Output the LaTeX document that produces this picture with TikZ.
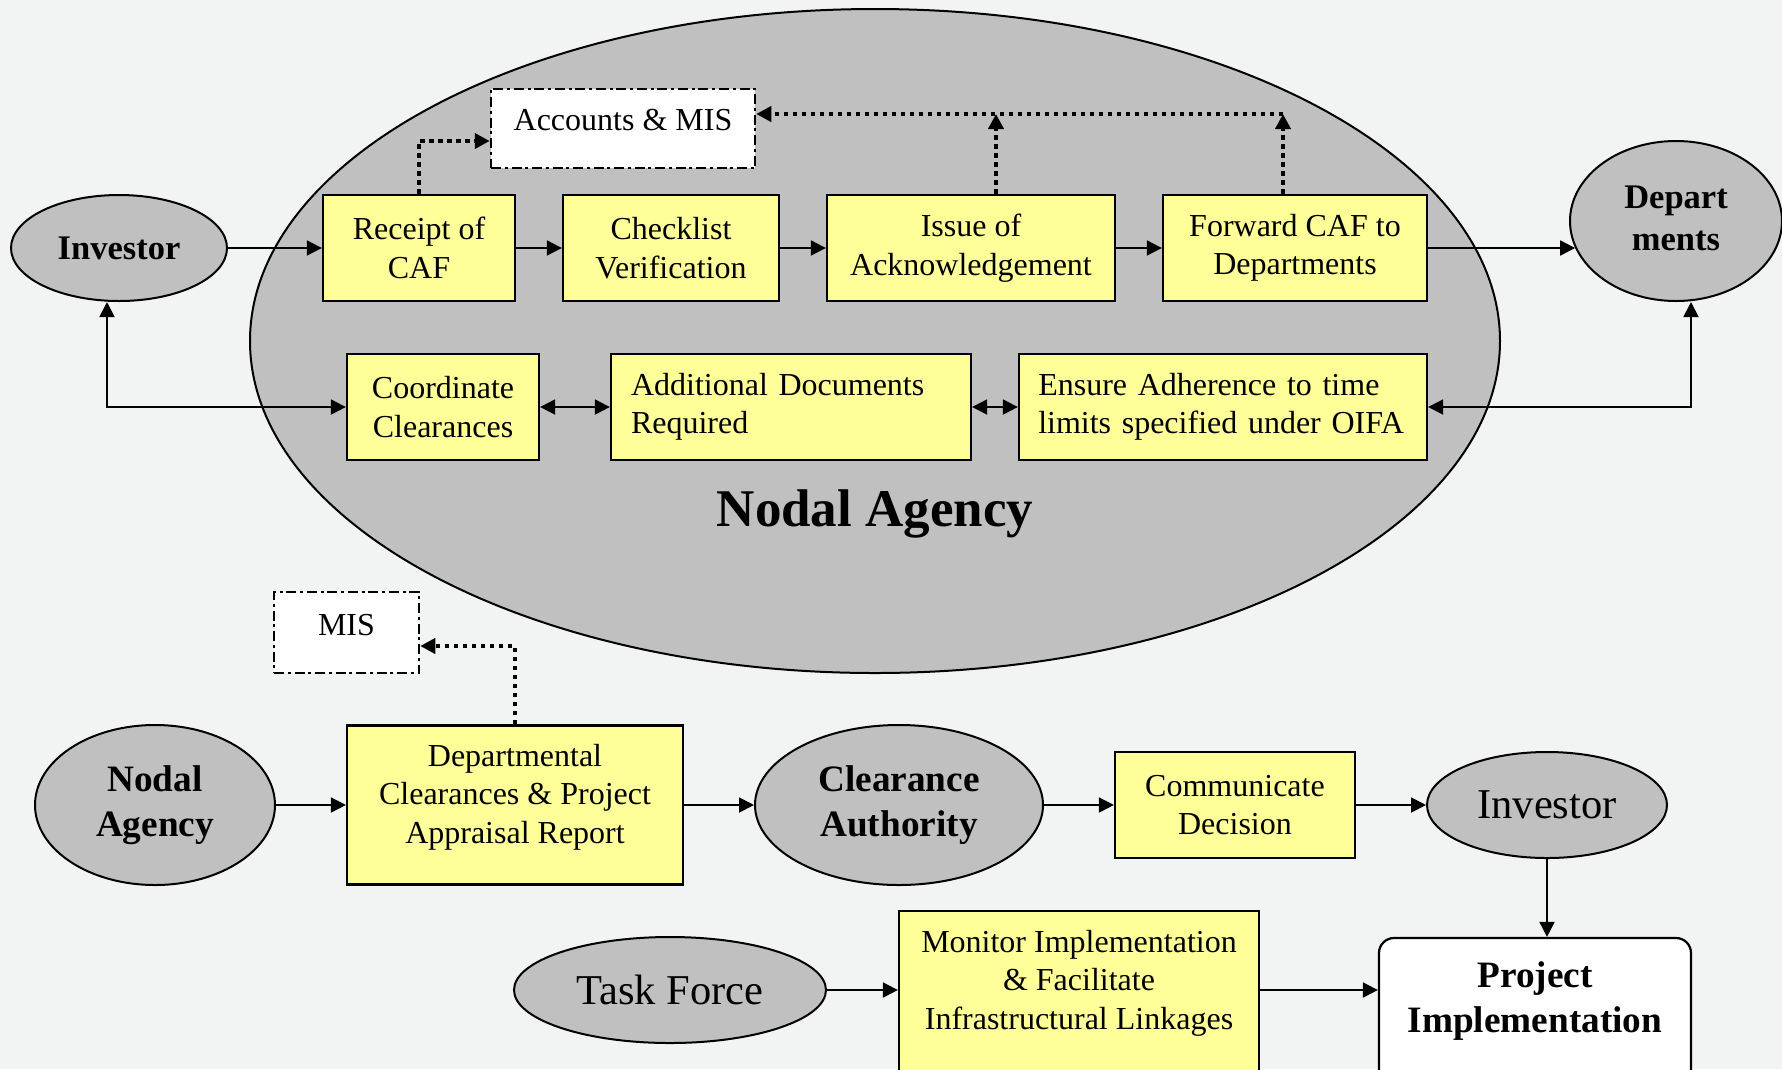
\documentclass[tikz,border=0pt]{standalone}
\usepackage{fontspec}
\setmainfont{Liberation Serif}
\usetikzlibrary{shapes.geometric,arrows.meta}
\definecolor{boxyellow}{HTML}{FFFF99}
\definecolor{ellgray}{HTML}{C0C0C0}
\definecolor{bgcol}{HTML}{F2F4F4}
\newcommand\regf{\fontsize{12.8}{15.4}\selectfont}
\newcommand\bldA{\fontsize{13.8}{16.8}\selectfont\bfseries}
\newcommand\bldB{\fontsize{14.9}{18}\selectfont\bfseries}
\newcommand\bigreg{\fontsize{17}{20}\selectfont}
\newcommand\hugebf{\fontsize{21.2}{25}\selectfont\bfseries}
\tikzset{
  ybox/.style={draw, line width=0.9pt, fill=boxyellow, inner sep=0pt, align=center, font=\regf},
  gell/.style={ellipse, draw, line width=0.8pt, fill=ellgray, inner sep=0pt, align=center},
  dashbox/.style={draw, line width=1pt, fill=white, dash pattern=on 4pt off 1.5pt on 1.2pt off 1.5pt, inner sep=0pt},
  tip/.tip={Triangle[length=6pt,width=6pt]},
  arr/.style={line width=0.75pt, -tip},
  darr/.style={line width=0.75pt, tip-tip},
  dotarr/.style={line width=1.6pt, dash pattern=on 1.8pt off 1.8pt, -tip},
}
\begin{document}
\begin{tikzpicture}[x=0.4pt,y=-0.4pt]
\def\u{0.4pt}
\useasboundingbox (0,0) rectangle (1782,1069);
\clip (0,0) rectangle (1782,1069);
\fill[bgcol] (0,0) rectangle (1782,1069);

% big nodal agency ellipse
\node[ellipse, draw, line width=0.8pt, fill=ellgray, minimum width=1250*\u, minimum height=664*\u, inner sep=0pt] (nodal) at (875,341) {};
\node[font=\hugebf] (nodallbl) at (875,514) {Nodal Agency};

% top row
\node[gell, minimum width=216*\u, minimum height=106*\u, font=\bldA] (inv1) at (119,248) {Investor};
\node[ybox, minimum width=192*\u, minimum height=106*\u] (rcaf) at (419,248) {Receipt of\\CAF};
\node[ybox, minimum width=216*\u, minimum height=106*\u] (chk) at (671,248) {Checklist\\Verification};
\node[ybox, minimum width=288*\u, minimum height=106*\u] (iss) at (971,248) {Issue of\\Acknowledgement};
\node[ybox, minimum width=264*\u, minimum height=106*\u] (fwd) at (1295,248) {Forward CAF to\\Departments};
\node[gell, minimum width=212*\u, minimum height=160*\u, font=\bldA] (dep) at (1676,221) {\raisebox{1.8pt}{\begin{tabular}{@{}c@{}}Depart\\ments\end{tabular}}};

\node[dashbox, minimum width=264*\u, minimum height=79*\u] (acc) at (623,128.5) {};
\node[font=\regf] (acctxt) at (623,120) {Accounts \& MIS};

% second row
\node[ybox, minimum width=192*\u, minimum height=106*\u] (coord) at (443,407) {Coordinate\\Clearances};
\node[ybox, minimum width=360*\u, minimum height=106*\u, align=left, text width=128pt, inner xsep=8pt] (addl) at (791,407) {Additional Documents\\Required};
\node[ybox, minimum width=408*\u, minimum height=106*\u, align=left, text width=147.8pt, inner xsep=7.7pt] (ens) at (1223,407) {Ensure Adherence to time\\limits specified under OIFA};

% top connectors
\draw[arr] (inv1.east) -- (rcaf.west);
\draw[arr] (rcaf) -- (chk);
\draw[arr] (chk) -- (iss);
\draw[arr] (iss) -- (fwd);
\draw[arr] (fwd.east) -- (fwd.east -| dep.195);
\draw[darr] ([xshift=-4.8pt]inv1.south) |- (coord.west);
\draw[darr] (coord) -- (addl);
\draw[darr] (addl) -- (ens);
\draw[darr] ([xshift=6pt]dep.south) |- (ens.east);

% dotted connectors
\draw[dotarr] (rcaf.north) |- ([yshift=-5pt]acc.west);
\coordinate (hl) at ([yshift=5.8pt]acc.east);
\draw[dotarr] ([xshift=10pt]iss.north) -- ([xshift=10pt]iss.north |- hl);
\draw[dotarr] ([xshift=-4.8pt]fwd.north) -- ([xshift=-4.8pt]fwd.north |- hl);
\draw[dotarr] ([xshift=-4.8pt]fwd.north |- hl) -- (hl);

% bottom part
\node[gell, minimum width=240*\u, minimum height=160*\u, font=\bldB] (na) at (155,805) {Nodal\\Agency};
\node[ybox, minimum width=336*\u, minimum height=159*\u] (dept) at (515,805) {};
\node[font=\regf, align=center] (depttxt) at (515,797) {Departmental\\Clearances \& Project\\Appraisal Report};
\node[dashbox, minimum width=145*\u, minimum height=81*\u] (mis) at (346.5,632.5) {};
\node[font=\regf] (mistxt) at (346.5,625) {MIS};
\draw[dotarr] (dept.north) |- ([yshift=-5.4pt]mis.east);

\node[gell, minimum width=288*\u, minimum height=160*\u, font=\bldB] (ca) at (899,805) {Clearance\\Authority};
\node[ybox, minimum width=240*\u, minimum height=106*\u] (com) at (1235,805) {Communicate\\Decision};
\node[gell, minimum width=240*\u, minimum height=106*\u, font=\bigreg] (inv2) at (1547,805) {Investor};
\node[gell, minimum width=312*\u, minimum height=106*\u, font=\bigreg] (tf) at (670,990) {Task Force};
\node[ybox, minimum width=360*\u, minimum height=180*\u] (mon) at (1079,1001) {};
\node[font=\regf, align=center] (montxt) at (1079,983) {Monitor Implementation\\\& Facilitate\\Infrastructural Linkages};
\node[draw, line width=0.9pt, fill=white, rounded corners=6pt, minimum width=312*\u, minimum height=160*\u, inner sep=0pt] (proj) at (1535,1018) {};
\node[font=\bldB, align=center] (projtxt) at (1535,1001) {Project\\Implementation};

\draw[arr] (na.east) -- (dept.west);
\draw[arr] (dept.east) -- (ca.west);
\draw[arr] (ca.east) -- (com.west);
\draw[arr] (com.east) -- (inv2.west);
\draw[arr] (inv2.south) -- (inv2.south |- proj.north);
\draw[arr] (tf.east) -- (tf.east -| mon.west);
\draw[arr] (tf.east -| mon.east) -- (tf.east -| proj.west);
\end{tikzpicture}
\end{document}
